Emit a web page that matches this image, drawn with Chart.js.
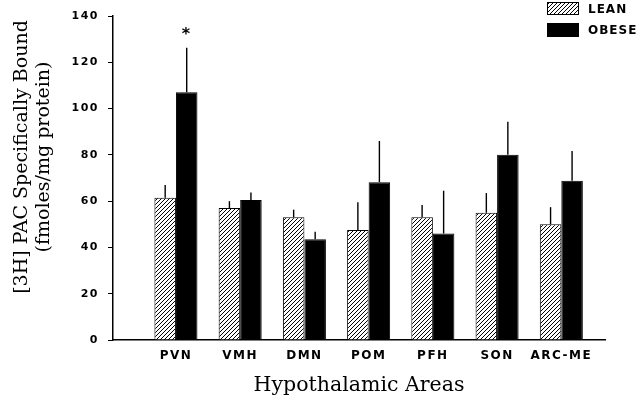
<!DOCTYPE html>
<html>
<head>
<meta charset="utf-8">
<script src="https://cdn.jsdelivr.net/npm/chart.js@4.4.0/dist/chart.umd.min.js"></script>
<style>
  html, body { margin: 0; padding: 0; background: #fff; }
  #wrap { width: 643px; height: 402px; position: relative; }
</style>
</head>
<body>
<div id="wrap"><canvas id="chart"></canvas></div>
<script>
// data
const areas = ["PVN", "VMH", "DMN", "POM", "PFH", "SON", "ARC-ME"];
const leanMeans = [61.5, 57, 53, 47.5, 53, 55, 50];
const leanErr = [5.5, 3, 3.3, 12, 5.3, 8.5, 7.4];
const obeseMeans = [107, 60.5, 43.5, 68.2, 46, 80, 68.8];
const obeseErr = [19.3, 3.2, 3.3, 17.8, 18.5, 14.3, 12.9];
const obeseSig = [true, false, false, false, false, false, false];
const yTicks = [0, 20, 40, 60, 80, 100, 120, 140];

const SANS = "'DejaVu Sans', sans-serif";
const SERIF = "'DejaVu Serif', serif";

// diagonal hatch for the lean bars
function makeHatch() {
  const c = document.createElement("canvas");
  c.width = 4; c.height = 4;
  const g = c.getContext("2d");
  g.fillStyle = "#fff";
  g.fillRect(0, 0, 4, 4);
  g.strokeStyle = "#000";
  g.lineWidth = 1;
  g.beginPath();
  g.moveTo(-1, 5); g.lineTo(5, -1);
  g.moveTo(-1, 1); g.lineTo(1, -1);
  g.moveTo(3, 5); g.lineTo(5, 3);
  g.stroke();
  return g.createPattern(c, "repeat");
}
const hatch = makeHatch();

// error bars (upper half only) + significance mark
const errorBars = {
  id: "errorBars",
  afterDatasetsDraw(chart) {
    const ctx = chart.ctx;
    const y = chart.scales.y;
    const errs = [leanErr, obeseErr];
    ctx.save();
    ctx.strokeStyle = "#000";
    ctx.lineWidth = 1.4;
    chart.data.datasets.forEach((ds, d) => {
      const meta = chart.getDatasetMeta(d);
      meta.data.forEach((bar, i) => {
        const top = y.getPixelForValue(ds.data[i].y + errs[d][i]);
        ctx.beginPath();
        ctx.moveTo(bar.x, bar.y);
        ctx.lineTo(bar.x, top);
        ctx.stroke();
        if (d === 1 && obeseSig[i]) {
          ctx.fillStyle = "#000";
          ctx.font = "bold 16px " + SANS;
          ctx.textAlign = "center";
          ctx.textBaseline = "middle";
          ctx.fillText("*", bar.x, top - 13);
        }
      });
    });
    ctx.restore();
  }
};

// axis titles and legend drawn on top
const extras = {
  id: "extras",
  beforeUpdate(chart) { chart.ctx.letterSpacing = "1.5px"; },
  beforeDraw(chart) { chart.ctx.letterSpacing = "1.5px"; },
  afterDraw(chart) {
    const ctx = chart.ctx;
    const area = chart.chartArea;
    ctx.save();
    ctx.letterSpacing = "0px";
    ctx.fillStyle = "#000";
    ctx.textAlign = "center";
    ctx.textBaseline = "middle";
    ctx.font = "20.5px " + SERIF;
    ctx.fillText("Hypothalamic Areas", (area.left + area.right) / 2, 386);
    ctx.translate(0, 157);
    ctx.rotate(-Math.PI / 2);
    ctx.font = "19px " + SERIF;
    ctx.fillText("[3H] PAC Specifically Bound", 0, 22);
    ctx.fillText("(fmoles/mg protein)", 0, 44);
    ctx.restore();

    ctx.save();
    ctx.letterSpacing = "1px";
    ctx.font = "bold 12px " + SANS;
    ctx.textBaseline = "middle";
    ctx.textAlign = "left";
    ctx.fillStyle = hatch;
    ctx.fillRect(547, 2, 32, 13);
    ctx.strokeStyle = "#000";
    ctx.lineWidth = 1;
    ctx.strokeRect(547.5, 2.5, 31, 12);
    ctx.fillStyle = "#000";
    ctx.fillRect(547, 23, 32, 14);
    ctx.fillText(chart.data.datasets[0].label, 588, 10);
    ctx.fillText(chart.data.datasets[1].label, 588, 31);
    ctx.restore();
  }
};

new Chart(document.getElementById("chart"), {
  type: "bar",
  data: {
    datasets: [
      {
        label: "LEAN",
        data: leanMeans.map((v, i) => ({ x: i, y: v })),
        backgroundColor: hatch,
        borderColor: "#000",
        borderWidth: 1
      },
      {
        label: "OBESE",
        data: obeseMeans.map((v, i) => ({ x: i, y: v })),
        backgroundColor: "#000",
        borderColor: "#000",
        borderWidth: 1
      }
    ]
  },
  options: {
    responsive: true,
    maintainAspectRatio: false,
    animation: false,
    categoryPercentage: 0.67,
    barPercentage: 1,
    layout: { padding: { top: 16, right: 38, left: 0, bottom: 0 } },
    plugins: { legend: { display: false }, tooltip: { enabled: false } },
    scales: {
      x: {
        type: "linear",
        offset: false,
        min: -0.98,
        max: 6.68,
        afterFit: (s) => { s.height = 62; },
        afterBuildTicks: (s) => { s.ticks = areas.map((a, i) => ({ value: i })); },
        grid: { display: false, drawTicks: false },
        border: { display: true, color: "#000", width: 1.5 },
        ticks: {
          autoSkip: false,
          maxRotation: 0,
          padding: 9,
          color: "#000",
          font: { family: SANS, size: 12, weight: "bold" },
          callback: (v) => areas[v]
        }
      },
      y: {
        min: 0,
        max: 140,
        afterFit: (s) => { s.width = 113; },
        afterBuildTicks: (s) => { s.ticks = yTicks.map((v) => ({ value: v })); },
        grid: { drawOnChartArea: false, drawTicks: true, tickLength: 5, color: "#000", lineWidth: 1 },
        border: { display: true, color: "#000", width: 1.5 },
        ticks: {
          padding: 9,
          color: "#000",
          font: { family: SANS, size: 11, weight: "bold" }
        }
      }
    }
  },
  plugins: [errorBars, extras]
});
</script>
</body>
</html>
